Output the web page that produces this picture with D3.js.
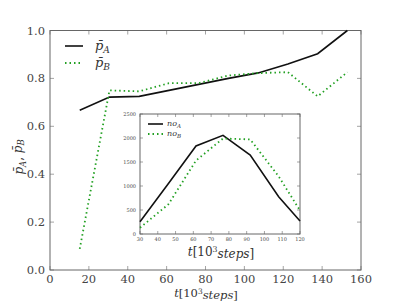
<!DOCTYPE html>
<html>
<head>
<meta charset="utf-8">
<script src="https://cdn.jsdelivr.net/npm/d3@7"></script>
<style>
body { margin: 0; background: #fff; }
</style>
</head>
<body>
<div id="visual"></div>
<script>
// main chart data
const steps = [15.3, 30.6, 45.9, 61.2, 76.5, 91.8, 107.1, 122.4, 137.7, 153];
const pA = [0.667, 0.722, 0.725, 0.750, 0.775, 0.800, 0.823, 0.860, 0.903, 1.0];
const pB = [0.088, 0.750, 0.746, 0.780, 0.780, 0.812, 0.822, 0.826, 0.725, 0.826];
const xTicks = [0, 20, 40, 60, 80, 100, 120, 140, 160];
const yTicks = [0.0, 0.2, 0.4, 0.6, 0.8, 1.0];

// inset data
const insetSteps = [30, 46, 61.5, 76.7, 92, 108, 120];
const noA = [256, 1050, 1833, 2056, 1646, 777, 271];
const noB = [130, 620, 1530, 1990, 1970, 1200, 490];
const insetXTicks = [30, 40, 50, 60, 70, 80, 90, 100, 110, 120];
const insetYTicks = [0, 500, 1000, 1500, 2000, 2500];

const width = 401, height = 301;
const frame = "#666";
const serif = "'DejaVu Serif', serif";

const svg = d3.select("#visual").append("svg")
	.attr("width", width)
	.attr("height", height)
	.attr("font-family", serif)
	.style("font-family", serif);

function drawAxes(g, x, y, xt, yt, opts) {
	const [x0, x1] = x.range();
	const [y0, y1] = y.range();
	g.append("rect")
		.attr("x", x0).attr("y", y1)
		.attr("width", x1 - x0).attr("height", y0 - y1)
		.attr("fill", "none").attr("stroke", frame).attr("stroke-width", opts.frameW);
	const tl = opts.tick;
	// ticks point inward on all four sides
	xt.forEach(v => {
		g.append("line").attr("x1", x(v)).attr("x2", x(v)).attr("y1", y0).attr("y2", y0 - tl).attr("stroke", frame).attr("stroke-width", 0.6);
		g.append("line").attr("x1", x(v)).attr("x2", x(v)).attr("y1", y1).attr("y2", y1 + tl).attr("stroke", frame).attr("stroke-width", 0.6);
		g.append("text").attr("x", x(v)).attr("y", y0 + opts.xOff)
			.attr("text-anchor", "middle").attr("font-size", opts.fs).attr("fill", "#444")
			.text(opts.fmtX(v));
	});
	yt.forEach(v => {
		g.append("line").attr("x1", x0).attr("x2", x0 + tl).attr("y1", y(v)).attr("y2", y(v)).attr("stroke", frame).attr("stroke-width", 0.6);
		g.append("line").attr("x1", x1).attr("x2", x1 - tl).attr("y1", y(v)).attr("y2", y(v)).attr("stroke", frame).attr("stroke-width", 0.6);
		g.append("text").attr("x", x0 - opts.yOff).attr("y", y(v)).attr("dy", "0.35em")
			.attr("text-anchor", "end").attr("font-size", opts.fs).attr("fill", "#444")
			.text(opts.fmtY(v));
	});
}

function pLabel(t, sub) {
	t.append("tspan").attr("font-style", "italic").text("p\u0304");
	t.append("tspan").attr("font-style", "italic").attr("font-size", "0.7em").attr("dy", "0.3em").text(sub);
}

function stepsLabel(t) {
	t.append("tspan").attr("font-style", "italic").text("t");
	t.append("tspan").text("[10");
	t.append("tspan").attr("font-size", "0.65em").attr("dy", "-0.45em").text("3");
	t.append("tspan").attr("font-style", "italic").attr("dy", "0.45em").text("steps");
	t.append("tspan").text("]");
}

// main axes
const x = d3.scaleLinear().domain([0, 160]).range([50, 361]);
const y = d3.scaleLinear().domain([0, 1]).range([270, 30.5]);
const main = svg.append("g");
drawAxes(main, x, y, xTicks, yTicks, {
	frameW: 1, tick: 4, fs: 11.5, xOff: 12.5, yOff: 5,
	fmtX: d => d, fmtY: d3.format(".1f")
});

const line = d3.line().x((d, i) => x(steps[i])).y(d => y(d));
main.append("path").datum(pA).attr("d", line)
	.attr("fill", "none").attr("stroke", "#111").attr("stroke-width", 1.6);
main.append("path").datum(pB).attr("d", line)
	.attr("fill", "none").attr("stroke", "#22a022").attr("stroke-width", 1.8)
	.attr("stroke-dasharray", "1.5,3");

// main legend
const leg = main.append("g");
leg.append("line").attr("x1", 65).attr("x2", 83).attr("y1", 46).attr("y2", 46).attr("stroke", "#111").attr("stroke-width", 1.6);
leg.append("line").attr("x1", 65).attr("x2", 83).attr("y1", 63).attr("y2", 63).attr("stroke", "#22a022").attr("stroke-width", 1.8).attr("stroke-dasharray", "1.5,3");
pLabel(leg.append("text").attr("x", 95).attr("y", 50).attr("font-size", 13).attr("fill", "#333"), "A");
pLabel(leg.append("text").attr("x", 95).attr("y", 67).attr("font-size", 13).attr("fill", "#333"), "B");

// axis labels
stepsLabel(main.append("text").attr("x", 206).attr("y", 297).attr("text-anchor", "middle").attr("font-size", 11.5).attr("fill", "#333"));

const yl = main.append("text").attr("transform", "translate(23,157) rotate(-90)").attr("text-anchor", "middle").attr("font-size", 12).attr("fill", "#333");
pLabel(yl, "A");
yl.append("tspan").attr("dy", "-0.3em").text(", ");
pLabel(yl, "B");

// inset
const xi = d3.scaleLinear().domain([30, 120]).range([140, 300]);
const yi = d3.scaleLinear().domain([0, 2500]).range([234, 114]);
const inset = svg.append("g");
inset.append("rect").attr("x", 140).attr("y", 114).attr("width", 160).attr("height", 120).attr("fill", "#fff");
drawAxes(inset, xi, yi, insetXTicks, insetYTicks, {
	frameW: 1, tick: 3, fs: 5, xOff: 6.5, yOff: 4,
	fmtX: d => d, fmtY: d => d
});
const iline = d3.line().x((d, i) => xi(insetSteps[i])).y(d => yi(d));
inset.append("path").datum(noA).attr("d", iline)
	.attr("fill", "none").attr("stroke", "#111").attr("stroke-width", 1.6);
inset.append("path").datum(noB).attr("d", iline)
	.attr("fill", "none").attr("stroke", "#22a022").attr("stroke-width", 1.8)
	.attr("stroke-dasharray", "1.5,3");

const il = inset.append("g");
il.append("line").attr("x1", 148).attr("x2", 163).attr("y1", 124).attr("y2", 124).attr("stroke", "#111").attr("stroke-width", 1.6);
il.append("line").attr("x1", 148).attr("x2", 163).attr("y1", 134).attr("y2", 134).attr("stroke", "#22a022").attr("stroke-width", 1.8).attr("stroke-dasharray", "1.5,3");
[["A", 126], ["B", 136]].forEach(([s, yy]) => {
	const t = il.append("text").attr("x", 167).attr("y", yy).attr("font-size", 8).attr("fill", "#333").attr("font-style", "italic");
	t.append("tspan").text("no");
	t.append("tspan").attr("font-size", "0.7em").attr("dy", "0.3em").text(s);
});

stepsLabel(inset.append("text").attr("x", 221).attr("y", 256).attr("text-anchor", "middle").attr("font-size", 12).attr("fill", "#333"));
</script>
</body>
</html>
